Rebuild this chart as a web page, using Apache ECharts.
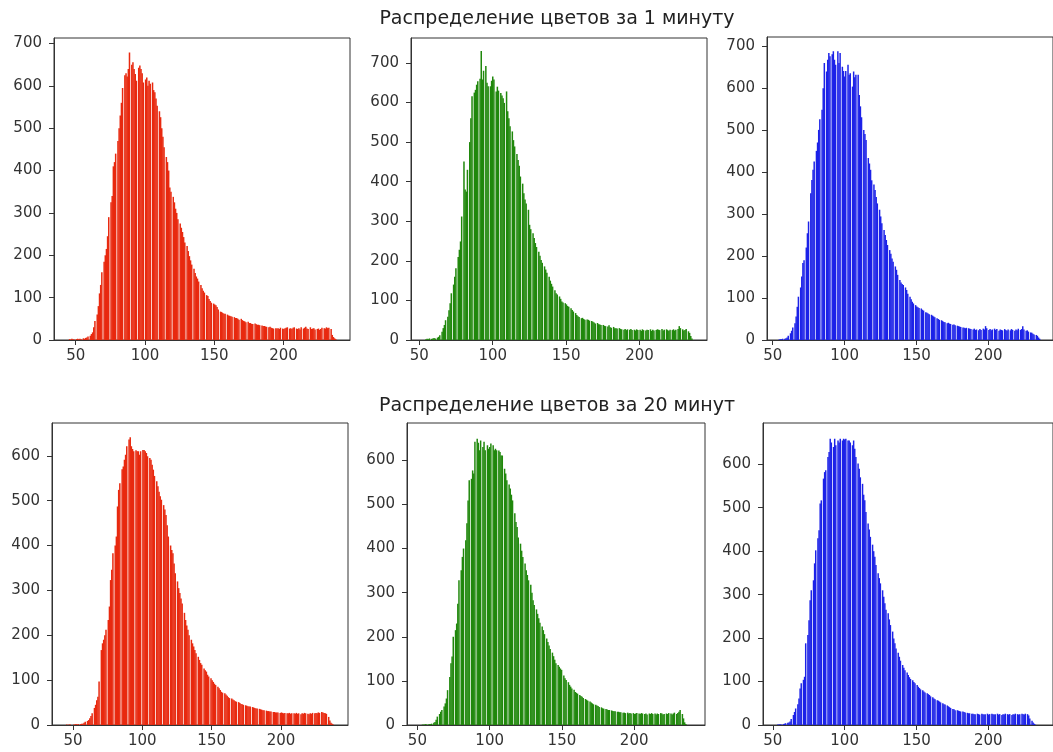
<!DOCTYPE html>
<html>
<head>
<meta charset="utf-8">
<script src="https://cdn.jsdelivr.net/npm/echarts@6/dist/echarts.min.js"></script>
<style>
    html, body {margin:0;padding:0;background:#fff;}
    #main {width:1053px;height:752px;}
</style>
</head>
<body>
<div id="main"></div>
<script>
    // tick labels
    var xTicks = [50, 100, 150, 200];
    var yTicksTop = [0, 100, 200, 300, 400, 500, 600, 700];
    var yTicksBottom = [0, 100, 200, 300, 400, 500, 600];
    var titles = ['Распределение цветов за 1 минуту', 'Распределение цветов за 20 минут'];

    // pixel counts per integer colour value, first entry belongs to *Start
    var red1Start = 45;
    var red1 = [
        2,1,3,2,1,2,3,2,3,2, 4,3,5,6,8,10,14,18,30,45,
        60,80,110,130,160,185,200,215,245,290, 325,340,410,420,440,470,500,530,560,595,
        625,630,622,640,679,650,656,640,628,612, 643,648,640,630,608,615,620,600,612,605,
        608,590,585,570,553,540,526,500,480,455, 432,420,400,360,350,338,325,310,300,285,
        275,265,255,243,230,222,210,198,188,178, 168,158,150,145,138,130,122,116,112,106,
        104,97,92,88,86,84,82,78,72,67, 66,64,62,62,60,58,57,56,55,54,
        52,52,50,48,50,47,45,44,42,43, 40,40,38,38,39,37,36,36,35,34,
        33,33,32,31,30,31,29,28,27,28, 27,28,26,29,27,26,28,29,30,27,
        28,26,29,30,27,26,28,25,30,27, 29,31,27,26,30,26,27,28,25,26,
        27,24,26,29,28,27,30,28,29,26, 12,7,4,2
    ];
    var green1Start = 54;
    var green1 = [
        2,3,2,4,3,4,5,4,6,8, 12,21,30,38,50,59,75,93,118,140,
        160,181,210,228,249,312,451,380,375,430, 500,560,616,625,632,645,654,660,730,658,
        680,692,650,641,641,655,666,658,628,640, 630,624,618,611,599,628,578,560,540,527,
        505,489,470,455,440,413,395,371,355,345, 329,291,280,270,258,245,235,223,213,202,
        195,186,178,170,160,150,142,135,126,118, 115,110,104,97,95,93,90,86,84,80,
        76,72,68,63,60,58,55,56,53,51, 52,51,49,48,46,44,42,43,40,39,
        38,38,36,35,34,37,32,31,33,30, 30,29,30,28,27,26,28,25,27,26,
        28,25,26,24,27,25,26,23,27,25, 24,26,25,27,23,26,24,25,27,26,
        25,28,24,26,27,25,23,26,25,27, 24,26,28,35,30,27,24,25,28,22,
        18,10,4
    ];
    var blue1Start = 54;
    var blue1 = [
        1,2,2,3,3,4,6,10,16,22, 30,40,56,79,103,125,151,183,190,220,
        254,282,349,381,405,425,450,470,500,525, 548,599,659,639,667,683,675,680,687,667,
        655,687,659,683,650,640,627,640,655,631, 635,603,639,625,631,631,583,556,530,500,
        490,476,433,420,405,380,370,357,340,325, 310,294,278,262,250,238,226,214,205,194,
        186,175,167,155,143,137,133,131,125,119, 110,103,97,91,87,83,80,78,76,75,
        72,70,66,65,63,61,60,58,56,54, 52,50,48,47,45,43,42,40,41,39,
        38,36,37,35,34,33,32,31,30,29, 28,29,28,27,26,25,27,24,25,23,
        26,24,27,25,33,28,24,26,23,25, 27,24,26,22,25,24,23,26,24,22,
        25,23,26,24,22,25,23,27,24,26, 33,25,22,23,20,18,17,15,13,12,
        10,6,3
    ];
    var red20Start = 45;
    var red20 = [
        1,0,1,1,0,1,1,2,1,2, 2,3,3,5,7,9,11,15,20,26,
        38,45,55,63,97,167,182,190,200,212, 234,264,323,346,383,400,420,487,524,539,
        570,576,591,602,621,636,641,621,615,610, 612,610,610,602,610,613,613,610,606,599,
        595,591,580,569,555,543,532,520,510,502, 490,480,468,445,420,400,390,383,360,338,
        320,305,294,282,271,250,234,222,212,200, 190,182,175,167,160,152,145,138,134,126,
        122,119,112,108,104,100,96,92,89,85, 82,78,74,72,71,68,65,62,60,59,
        57,55,53,52,51,49,47,46,45,44, 43,42,41,41,40,39,38,37,37,36,
        35,34,33,33,32,31,31,30,30,29, 29,28,28,28,27,28,27,26,27,26,
        26,27,25,26,26,25,27,25,26,24, 26,25,27,26,25,24,26,25,27,26,
        27,26,28,27,29,28,27,26,25,18, 10,5,3,1
    ];
    var green20Start = 53;
    var green20 = [
        1,1,1,2,1,2,2,3,5,7, 12,19,25,30,34,42,49,60,79,109,
        140,155,200,215,230,275,328,351,381,400, 419,457,509,555,558,577,570,642,649,640,
        623,645,630,642,623,634,626,630,638,634, 623,626,623,622,619,611,611,581,570,555,
        545,536,522,509,480,460,449,425,411,395, 381,366,351,340,328,318,300,283,272,262,
        252,242,232,223,215,206,196,188,180,172, 164,156,148,140,136,132,128,125,112,106,
        102,97,91,87,83,80,75,73,71,68, 66,64,61,59,57,55,53,51,49,47,
        46,44,43,41,40,38,37,36,35,34, 34,33,32,31,31,30,30,29,29,28,
        28,27,28,26,27,26,27,25,26,27, 26,25,27,26,25,26,24,26,25,27,
        25,26,24,26,25,27,26,24,25,26, 25,27,26,24,26,28,25,27,30,34,
        25,15,6,2
    ];
    var blue20Start = 53;
    var blue20 = [
        1,1,2,1,2,3,4,5,6,8, 14,23,30,38,48,61,84,96,104,111,
        188,207,241,287,310,333,372,402,430,448, 510,517,567,582,586,617,628,659,650,640,
        659,644,655,650,659,655,659,657,659,655, 655,650,644,655,636,617,602,590,570,555,
        530,517,490,464,450,433,415,400,387,368, 349,338,326,310,295,280,265,257,243,230,
        215,199,188,176,166,157,148,138,132,126, 121,115,110,106,103,99,96,92,88,85,
        82,80,77,75,73,71,69,66,64,61, 59,57,56,54,52,50,48,47,45,43,
        41,39,37,36,34,34,33,32,31,31, 30,29,28,27,27,26,26,25,25,26,
        25,24,26,25,24,25,26,24,25,26, 25,24,25,26,24,25,23,25,24,26,
        25,24,25,23,25,24,26,25,24,25, 26,25,24,26,25,22,15,10,6,3,
        1
    ];

    var binCount = 232;

    // matplotlib-like binning: integer values into binCount equal bins
    function toBins(start, counts) {
        var lo = start, hi = start + counts.length - 1;
        var w = (hi - lo) / binCount;
        var bins = {};
        counts.forEach(function (c, i) {
            var k = Math.min(Math.floor(i / w + 1e-9), binCount - 1);
            bins[k] = (bins[k] || 0) + c;
        });
        return Object.keys(bins).map(function (k) {
            k = +k;
            return [lo + k * w, lo + (k + 1) * w, bins[k]];
        });
    }

    var panels = [
        {start: red1Start, counts: red1, color: '#e8290f', box: [54, 38, 296, 302], x: [34.3, 248], y: 713, ticks: yTicksTop},
        {start: green1Start, counts: green1, color: '#20880c', box: [411, 38, 296, 302], x: [44.3, 246], y: 763, ticks: yTicksTop},
        {start: blue1Start, counts: blue1, color: '#1c22e8', box: [767, 37, 296, 303], x: [46, 245], y: 721, ticks: yTicksTop},
        {start: red20Start, counts: red20, color: '#e8290f', box: [52, 423, 296, 302], x: [34.9, 248.3], y: 673, ticks: yTicksBottom},
        {start: green20Start, counts: green20, color: '#20880c', box: [407, 423, 298, 302], x: [42.8, 249], y: 684.5, ticks: yTicksBottom},
        {start: blue20Start, counts: blue20, color: '#1c22e8', box: [763, 423, 297, 302], x: [43.2, 245], y: 695, ticks: yTicksBottom}
    ];

    var font = 'DejaVu Sans';
    var axisCommon = {
        z: 5,
        splitLine: {show: false},
        axisLine: {show: true, lineStyle: {color: '#333', width: 1}},
        axisTick: {show: true, length: 5, lineStyle: {color: '#333'}},
        axisLabel: {color: '#333', fontSize: 15, fontFamily: font}
    };

    var option = {
        animation: false,
        grid: [], xAxis: [], yAxis: [], series: [],
        graphic: titles.map(function (t, i) {
            return {
                type: 'text', x: 557, y: i === 0 ? 19 : 406,
                style: {text: t, fill: '#222', font: '19px "DejaVu Sans"', textAlign: 'center', textVerticalAlign: 'middle'}
            };
        })
    };

    panels.forEach(function (p, i) {
        option.grid.push({left: p.box[0], top: p.box[1], width: p.box[2], height: p.box[3],
            show: true, borderColor: '#333', borderWidth: 1, backgroundColor: 'transparent'});
        option.xAxis.push(echarts.util.merge({
            type: 'value', gridIndex: i, min: p.x[0], max: p.x[1],
            axisTick: {customValues: xTicks},
            axisLabel: {customValues: xTicks, margin: 9}
        }, axisCommon));
        option.yAxis.push(echarts.util.merge({
            type: 'value', gridIndex: i, min: 0, max: p.y,
            axisTick: {customValues: p.ticks},
            axisLabel: {customValues: p.ticks, margin: 12}
        }, axisCommon));
        option.series.push({
            type: 'custom', xAxisIndex: i, yAxisIndex: i, clip: true,
            data: toBins(p.start, p.counts),
            encode: {x: [0, 1], y: 2},
            renderItem: function (params, api) {
                var a = api.coord([api.value(0), api.value(2)]);
                var b = api.coord([api.value(1), 0]);
                // small overlap so neighbouring bars do not leave seams
                return {type: 'rect', shape: {x: a[0], y: a[1], width: b[0] - a[0] + 0.35, height: b[1] - a[1]},
                    style: {fill: p.color}};
            }
        });
    });

    var chart = echarts.init(document.getElementById('main'));
    chart.setOption(option);
</script>
</body>
</html>
